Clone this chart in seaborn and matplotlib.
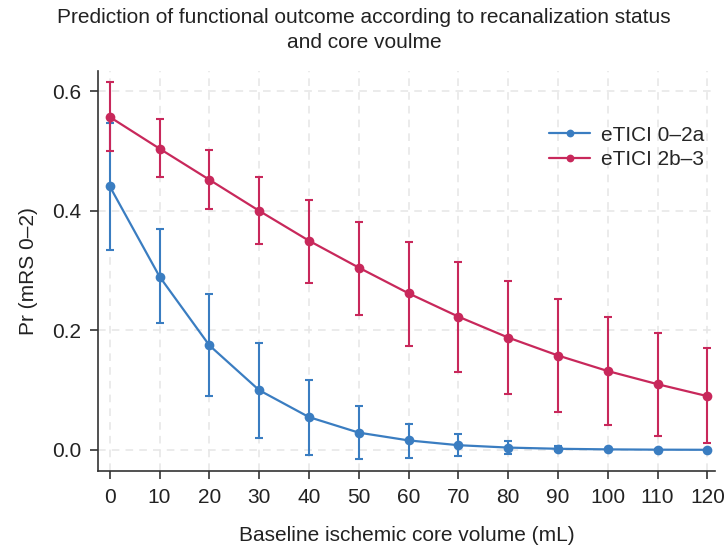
import numpy as np
import pandas as pd
import matplotlib
matplotlib.use("Agg")
import matplotlib.pyplot as plt
import seaborn as sns

# ===============================
# DATA
# ===============================
core_volume = [0, 10, 20, 30, 40, 50, 60, 70, 80, 90, 100, 110, 120]

low_pr = [0.441, 0.290, 0.175, 0.100, 0.055, 0.029, 0.016, 0.008, 0.004, 0.002, 0.001, 0.0005, 0.0003]
low_hi = [0.547, 0.369, 0.261, 0.179, 0.117, 0.073, 0.044, 0.026, 0.015, 0.006, 0.002, 0.001, 0.0006]
low_lo = [0.335, 0.213, 0.090, 0.020, -0.008, -0.015, -0.013, -0.010, -0.006, -0.002, 0.000, 0.000, 0.000]

high_pr = [0.557, 0.504, 0.452, 0.400, 0.350, 0.305, 0.262, 0.223, 0.188, 0.158, 0.132, 0.110, 0.090]
high_hi = [0.616, 0.554, 0.501, 0.457, 0.418, 0.382, 0.348, 0.315, 0.282, 0.252, 0.223, 0.195, 0.170]
high_lo = [0.500, 0.456, 0.403, 0.344, 0.279, 0.226, 0.174, 0.130, 0.094, 0.064, 0.042, 0.024, 0.011]

groups = ["eTICI 0\u20132a", "eTICI 2b\u20133"]
colors = ["#3a7dc1", "#c8285b"]

df = pd.DataFrame({
    "volume": core_volume * 2,
    "pr": low_pr + high_pr,
    "lo": low_lo + high_lo,
    "hi": low_hi + high_hi,
    "group": [groups[0]] * len(core_volume) + [groups[1]] * len(core_volume),
})

# ===============================
# PLOT
# ===============================
sns.set_style("ticks")
plt.rcParams["font.family"] = ["Liberation Sans Narrow", "Liberation Sans", "DejaVu Sans"]

fig, ax = plt.subplots(figsize=(7.28, 5.54), dpi=100)
fig.subplots_adjust(left=0.135, right=0.982, top=0.872, bottom=0.150)

for g, c in zip(groups, colors):
    sub = df[df["group"] == g]
    ax.errorbar(sub["volume"], sub["pr"],
                yerr=[sub["pr"] - sub["lo"], sub["hi"] - sub["pr"]],
                fmt="none", ecolor=c, elinewidth=1.5, capsize=3, capthick=1.5, zorder=2)

sns.lineplot(data=df, x="volume", y="pr", hue="group", palette=colors,
             marker="o", markersize=7, markeredgewidth=0, linewidth=1.6,
             ax=ax, zorder=3)

ax.set_xlim(-2.3, 121.5)
ax.set_ylim(-0.035, 0.634)
ax.set_xticks(core_volume)
ax.set_yticks([0.0, 0.2, 0.4, 0.6])
ax.set_yticklabels(["0.0", "0.2", "0.4", "0.6"])
ax.grid(True, linestyle=(0, (5, 4)), color="#e6e6e6", linewidth=1.1)
ax.set_axisbelow(True)
sns.despine(ax=ax)
for s in ["left", "bottom"]:
    ax.spines[s].set_color("#333333")
    ax.spines[s].set_linewidth(1.2)
ax.tick_params(axis="both", labelsize=15, colors="#222222", length=6, width=1.1, pad=6)

ax.set_xlabel("Baseline ischemic core volume (mL)", fontsize=15, color="#222222", labelpad=14)
ax.set_ylabel("Pr (mRS 0\u20132)", fontsize=15, color="#222222", labelpad=10)
fig.suptitle("Prediction of functional outcome according to recanalization status\nand core voulme",
             fontsize=15, color="#222222", y=0.985, linespacing=1.4)

leg = ax.legend(loc="upper right", bbox_to_anchor=(1.013, 0.91), frameon=False,
                fontsize=15, handlelength=2.0, handletextpad=0.5, labelspacing=0.25,
                markerscale=0.8)

fig.savefig("out.png", dpi=100)
